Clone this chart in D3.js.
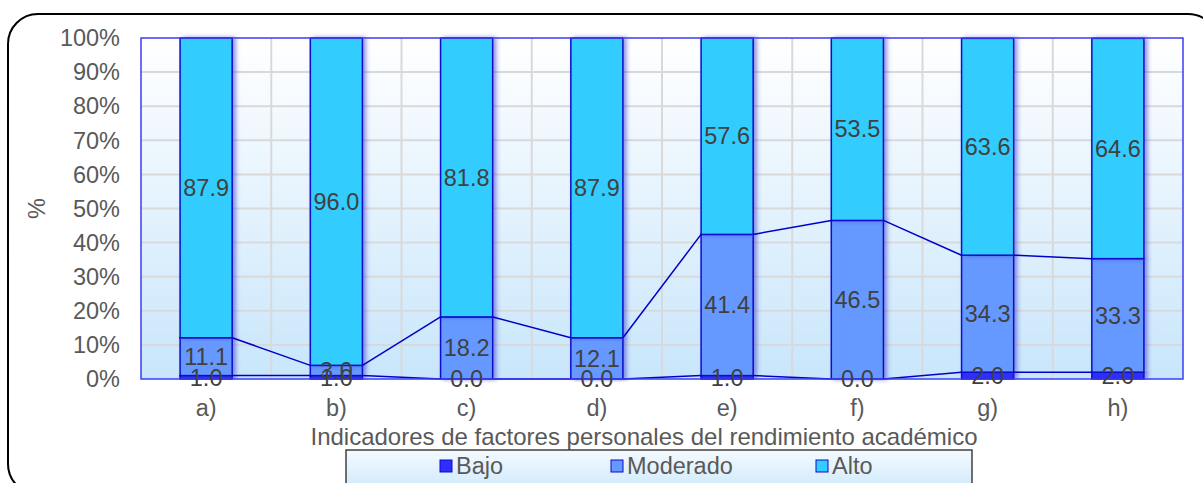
<!DOCTYPE html>
<html>
<head>
<meta charset="utf-8">
<script src="https://cdn.jsdelivr.net/npm/d3@7"></script>
<style>
  body { margin: 0; background: #fff; }
  text { font-family: "Liberation Sans", Arial, sans-serif; }
</style>
</head>
<body>
<svg id="chart"></svg>
<script>
const W = 1203, H = 483;

// data
const categories = ["a)", "b)", "c)", "d)", "e)", "f)", "g)", "h)"];
const seriesNames = ["Bajo", "Moderado", "Alto"];
const bajo = [1.0, 1.0, 0.0, 0.0, 1.0, 0.0, 2.0, 2.0];
const moderado = [11.1, 3.0, 18.2, 12.1, 41.4, 46.5, 34.3, 33.3];
const alto = [87.9, 96.0, 81.8, 87.9, 57.6, 53.5, 63.6, 64.6];
const yTicks = [0, 10, 20, 30, 40, 50, 60, 70, 80, 90, 100];

const colors = { Bajo: "#2e2eff", Moderado: "#6699ff", Alto: "#33ccff" };
const textColor = "#595959";
const fs = "23.5px";

const svg = d3.select("#chart").attr("width", W).attr("height", H);
const defs = svg.append("defs");

const bg = defs.append("linearGradient").attr("id", "plotBg")
  .attr("x1", 0).attr("y1", 0).attr("x2", 0).attr("y2", 1);
bg.append("stop").attr("offset", "0%").attr("stop-color", "#ffffff");
bg.append("stop").attr("offset", "100%").attr("stop-color", "#c8e6fb");

const lg = defs.append("linearGradient").attr("id", "legBg")
  .attr("x1", 0).attr("y1", 0).attr("x2", 0).attr("y2", 1);
lg.append("stop").attr("offset", "0%").attr("stop-color", "#f4faff");
lg.append("stop").attr("offset", "100%").attr("stop-color", "#cfe9fb");

const shadow = defs.append("filter").attr("id", "shadow")
  .attr("x", "-20%").attr("y", "-5%").attr("width", "150%").attr("height", "110%");
shadow.append("feDropShadow").attr("dx", 3).attr("dy", 0).attr("stdDeviation", 2)
  .attr("flood-color", "#3a3ad0").attr("flood-opacity", 0.55);

// outer rounded frame
svg.append("rect")
  .attr("x", 8).attr("y", 14).attr("width", 1210).attr("height", 480)
  .attr("rx", 30).attr("ry", 30)
  .attr("fill", "#fff").attr("stroke", "#000").attr("stroke-width", 2);

const margin = { top: 38, right: 20, bottom: 104, left: 141 };
const plotW = W - margin.left - margin.right;
const plotH = H - margin.top - margin.bottom;

const x = d3.scaleBand().domain(categories).range([0, plotW]).paddingInner(0.6).paddingOuter(0.3);
const xOuter = d3.scaleBand().domain(categories).range([0, plotW]);
const y = d3.scaleLinear().domain([0, 100]).range([plotH, 0]);

const g = svg.append("g").attr("transform", `translate(${margin.left},${margin.top})`);

g.append("rect").attr("width", plotW).attr("height", plotH).attr("fill", "url(#plotBg)");

// grid
g.append("g").selectAll("line.h").data(yTicks.slice(1, -1)).join("line")
  .attr("x1", 0).attr("x2", plotW)
  .attr("y1", d => y(d)).attr("y2", d => y(d))
  .attr("stroke", "#d9d9d9").attr("stroke-width", 2);
g.append("g").selectAll("line.v").data(categories.slice(1)).join("line")
  .attr("x1", d => xOuter(d)).attr("x2", d => xOuter(d))
  .attr("y1", 0).attr("y2", plotH)
  .attr("stroke", "#d9d9d9").attr("stroke-width", 2);
g.append("g").selectAll("line.vc").data(categories).join("line")
  .attr("x1", d => xOuter(d) + xOuter.bandwidth() / 2).attr("x2", d => xOuter(d) + xOuter.bandwidth() / 2)
  .attr("y1", 0).attr("y2", plotH)
  .attr("stroke", "#d9d9d9").attr("stroke-width", 2);

// stack
const table = categories.map((c, i) => ({ cat: c, Bajo: bajo[i], Moderado: moderado[i], Alto: alto[i] }));
const stacked = d3.stack().keys(seriesNames)(table);

// bars
const layers = g.append("g").selectAll("g").data(stacked).join("g")
  .attr("fill", d => colors[d.key]);
layers.selectAll("rect").data(d => d).join("rect")
  .attr("x", d => x(d.data.cat))
  .attr("y", d => y(d[1]))
  .attr("width", x.bandwidth())
  .attr("height", d => Math.max(0, y(d[0]) - y(d[1])))
  .attr("stroke", "#0a0acc").attr("stroke-width", 1.5)
  .attr("filter", "url(#shadow)");

// series lines
stacked.slice(0, 2).forEach(layer => {
  for (let i = 0; i < layer.length - 1; i++) {
    g.append("line")
      .attr("x1", x(categories[i]) + x.bandwidth())
      .attr("y1", y(layer[i][1]))
      .attr("x2", x(categories[i + 1]))
      .attr("y2", y(layer[i + 1][1]))
      .attr("stroke", "#0000c8").attr("stroke-width", 1.5);
  }
});

// plot border
g.append("rect").attr("width", plotW).attr("height", plotH)
  .attr("fill", "none").attr("stroke", "#3c3cf5").attr("stroke-width", 1.5);

// data labels
stacked.forEach(layer => {
  g.append("g").selectAll("text").data(layer).join("text")
    .attr("x", d => x(d.data.cat) + x.bandwidth() / 2)
    .attr("y", d => (y(d[0]) + y(d[1])) / 2)
    .attr("dy", "0.35em")
    .attr("text-anchor", "middle")
    .attr("fill", "#404040")
    .style("font-size", fs)
    .text(d => (d[1] - d[0]).toFixed(1));
});

// y axis labels
g.append("g").selectAll("text").data(yTicks).join("text")
  .attr("x", -21).attr("y", d => y(d)).attr("dy", "0.35em")
  .attr("text-anchor", "end").attr("fill", textColor)
  .style("font-size", fs)
  .text(d => d + "%");

// x axis labels
g.append("g").selectAll("text").data(categories).join("text")
  .attr("x", d => xOuter(d) + xOuter.bandwidth() / 2).attr("y", plotH + 29).attr("dy", "0.35em")
  .attr("text-anchor", "middle").attr("fill", textColor)
  .style("font-size", fs)
  .text(d => d);

// axis titles
svg.append("text")
  .attr("x", margin.left + plotW / 2 - 18).attr("y", 437).attr("dy", "0.35em")
  .attr("text-anchor", "middle").attr("fill", textColor)
  .style("font-size", "24px")
  .text("Indicadores de factores personales del rendimiento académico");

svg.append("text")
  .attr("transform", `translate(37,${margin.top + plotH / 2}) rotate(-90)`)
  .attr("dy", "0.35em")
  .attr("text-anchor", "middle").attr("fill", textColor)
  .style("font-size", fs)
  .text("%");

// legend
const leg = svg.append("g").attr("transform", "translate(346,450)");
leg.append("rect").attr("width", 626).attr("height", 40)
  .attr("fill", "url(#legBg)").attr("stroke", "#404040").attr("stroke-width", 1.5);
const legX = [94, 265, 470];
seriesNames.forEach((s, i) => {
  leg.append("rect").attr("x", legX[i]).attr("y", 10).attr("width", 12).attr("height", 12)
    .attr("fill", colors[s]).attr("stroke", "#0a0acc").attr("stroke-width", 1);
  leg.append("text").attr("x", legX[i] + 16).attr("y", 16).attr("dy", "0.35em")
    .attr("fill", textColor).style("font-size", fs).text(s);
});
</script>
</body>
</html>
